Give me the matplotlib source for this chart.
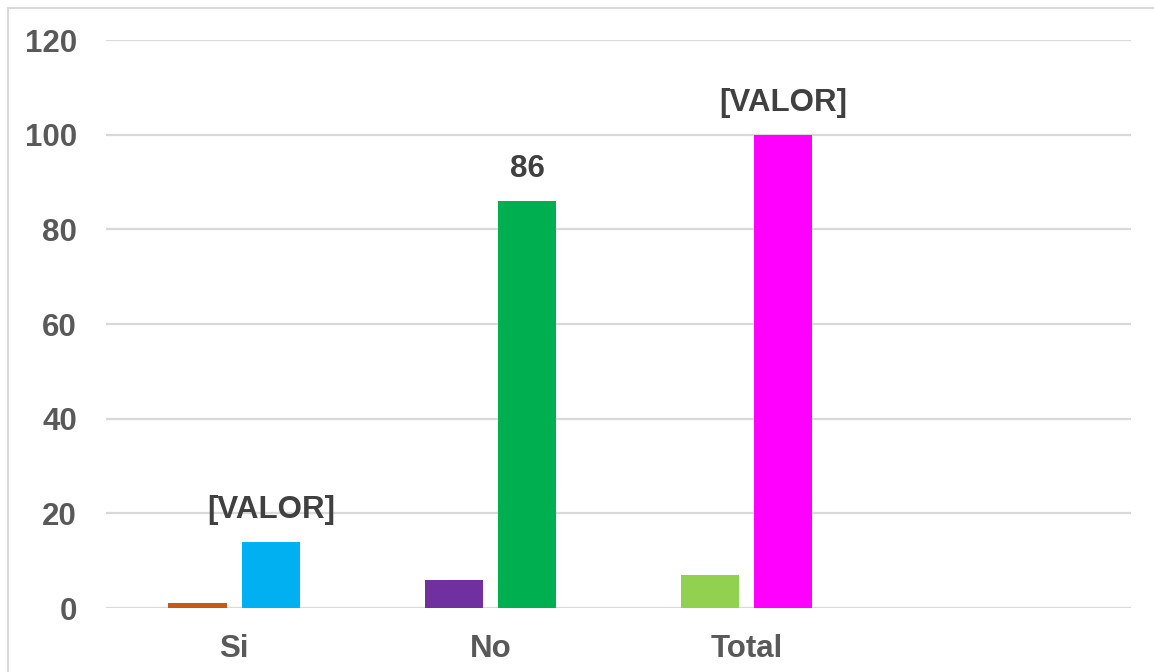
import numpy as np
import matplotlib.pyplot as plt
from matplotlib.patches import Rectangle

plt.rcParams['font.family'] = ['Liberation Sans', 'DejaVu Sans']

categories = ['Si', 'No', 'Total', '']
left_values = [1, 6, 7]
right_values = [14, 86, 100]
left_colors = ['#C55A11', '#7030A0', '#92D050']
right_colors = ['#00B0F0', '#00B050', '#FF00FF']
right_labels = ['[VALOR]', '86', '[VALOR]']
yticks = [0, 20, 40, 60, 80, 100, 120]

fig = plt.figure(figsize=(11.54, 6.72), dpi=100)
ax = fig.add_axes([106/1154, 1 - 608/672, 1025/1154, 568/672])

# outer chart frame (only top and left edges fall inside the image)
fig.patches.append(Rectangle((8/1154, -0.1), 1.2, 1 - 8/672 + 0.1,
                             transform=fig.transFigure, fill=False,
                             edgecolor='#d9d9d9', linewidth=1.5))

x = np.arange(len(left_values))
width = 0.227
offset = 0.143
ax.bar(x - offset, left_values, width, color=left_colors, zorder=3)
bars = ax.bar(x + offset, right_values, width, color=right_colors, zorder=3)

for b, lab in zip(bars, right_labels):
    ax.annotate(lab, (b.get_x() + b.get_width() / 2, b.get_height()),
                xytext=(0, 12), textcoords='offset points',
                ha='center', va='bottom', fontsize=22.5, fontweight='bold',
                color='#404040')

ax.set_xlim(-0.5, len(categories) - 0.5)
ax.set_ylim(0, 120)
ax.set_yticks(yticks)
ax.set_xticks(np.arange(len(categories)))
ax.set_xticklabels(categories)
ax.tick_params(axis='both', length=0, labelsize=22.5, labelcolor='#595959')
ax.tick_params(axis='y', pad=21)
ax.tick_params(axis='x', pad=19)
for t in ax.get_xticklabels() + ax.get_yticklabels():
    t.set_fontweight('bold')

ax.grid(axis='y', color='#d9d9d9', linewidth=1.6, zorder=0)
for s in ax.spines.values():
    s.set_visible(False)

fig.savefig('out.png', dpi=100)
